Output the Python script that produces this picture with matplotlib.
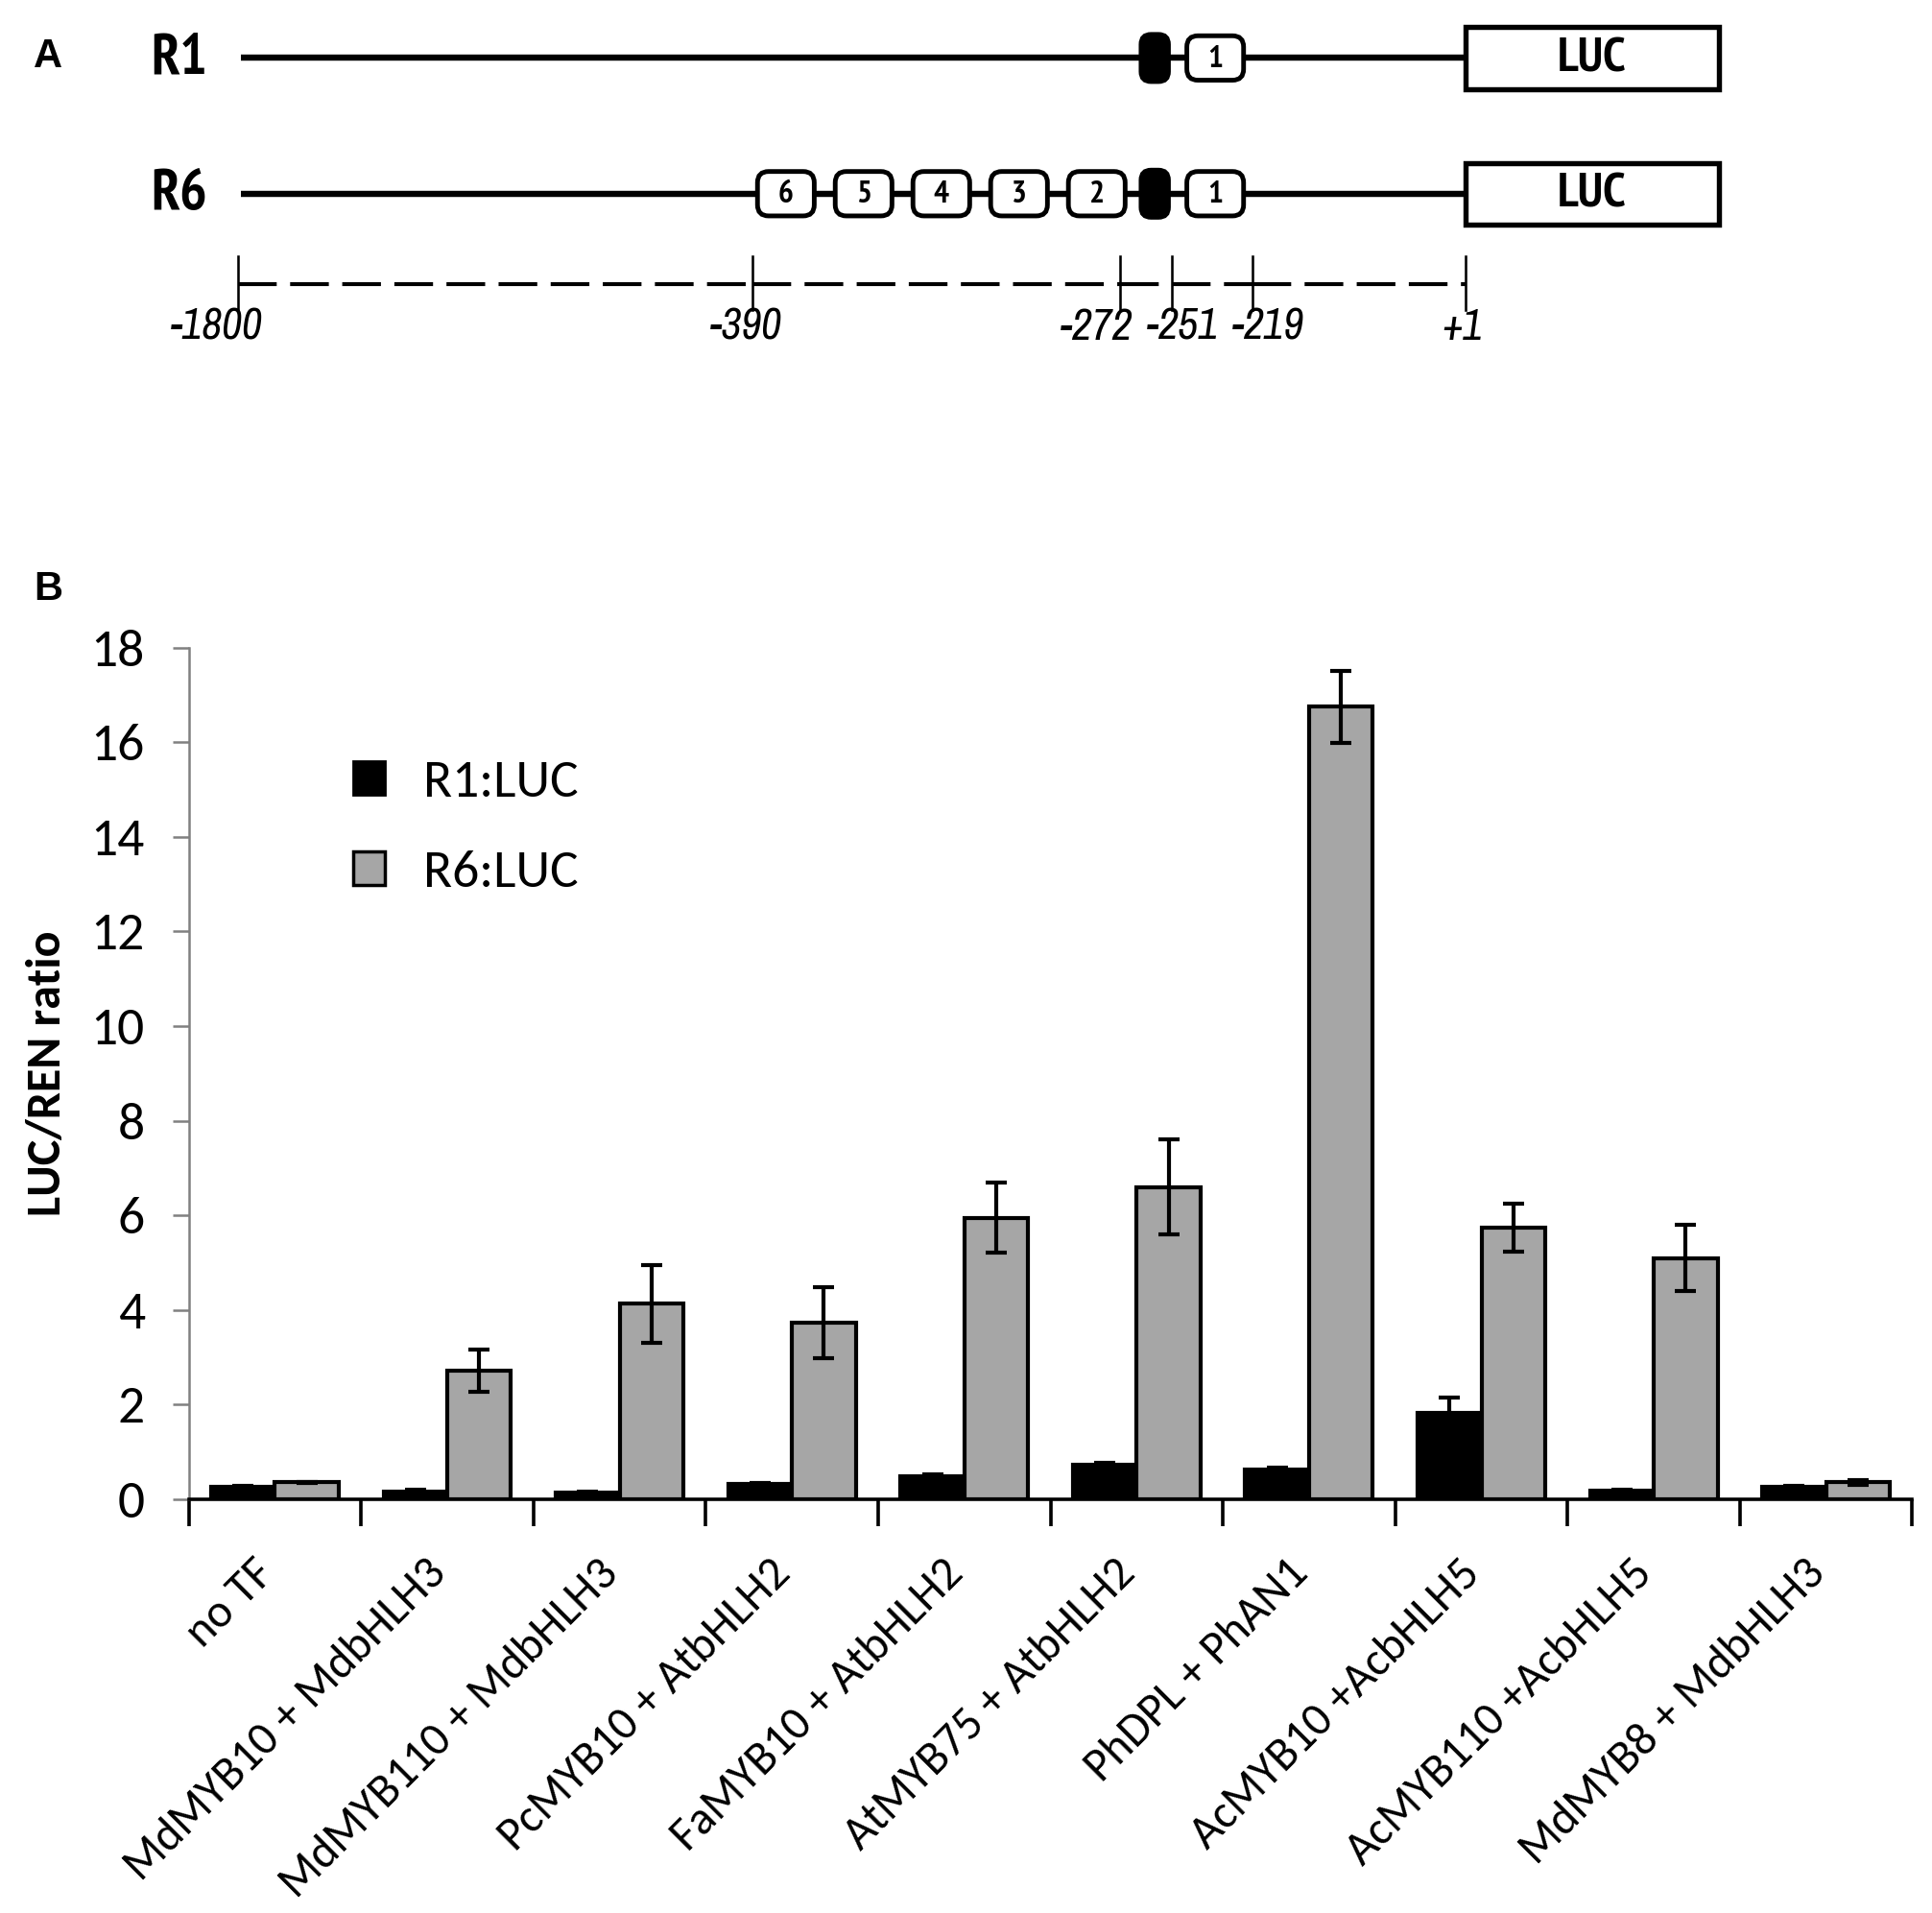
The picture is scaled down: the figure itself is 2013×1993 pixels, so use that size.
import matplotlib
matplotlib.use('Agg')
import matplotlib.pyplot as plt
from matplotlib.patches import FancyBboxPatch, Rectangle, Patch
import numpy as np

# ---------------- data ----------------
categories = ["no TF", "MdMYB10 + MdbHLH3", "MdMYB110 + MdbHLH3", "PcMYB10 + AtbHLH2",
              "FaMYB10 + AtbHLH2", "AtMYB75 + AtbHLH2", "PhDPL + PhAN1",
              "AcMYB10 +AcbHLH5", "AcMYB110 +AcbHLH5", "MdMYB8 + MdbHLH3"]
r1_values = [0.25, 0.15, 0.13, 0.32, 0.48, 0.72, 0.62, 1.83, 0.18, 0.25]
r1_errors = [0.02, 0.04, 0.02, 0.02, 0.05, 0.05, 0.05, 0.32, 0.02, 0.02]
r6_values = [0.35, 2.72, 4.13, 3.73, 5.95, 6.60, 16.75, 5.74, 5.09, 0.35]
r6_errors = [0.01, 0.45, 0.82, 0.75, 0.74, 1.00, 0.76, 0.50, 0.70, 0.06]
series_labels = ["R1:LUC", "R6:LUC"]
y_ticks = [0, 2, 4, 6, 8, 10, 12, 14, 16, 18]

# promoter schematic
scale_labels = ["-1800", "-390", "-272", "-251", "-219", "+1"]
r6_elements = ["6", "5", "4", "3", "2"]

# ---------------- fonts ----------------
NARROW_B = ['PT Sans Narrow', 'Open Sans Condensed', 'DejaVu Sans']
NARROW_I = ['Archivo Narrow', 'Roboto Condensed', 'DejaVu Sans']
CALIBRI = ['Carlito', 'Lato', 'DejaVu Sans']
ARIAL = ['Liberation Sans', 'DejaVu Sans']

# ---------------- figure ----------------
fig = plt.figure(figsize=(20.13, 19.93), dpi=100)
bg = fig.add_axes([0, 0, 1, 1])
W, H = 1566.0, 1550.5
bg.set_xlim(0, W)
bg.set_ylim(H, 0)
bg.axis('off')
PT = 0.9255  # points per schematic unit

# layout of schematic (units)
line_x0, luc_x0, luc_x1 = 195, 1188, 1393
row_y = [47, 157]
elem_x = [637, 700, 763, 826, 889]
black_x = 936
one_x = 985
scale_x = [193, 610, 908, 950, 1015, 1188]
scale_lab_x = [176, 605, 889, 959, 1028, 1185]
scale_y = 230


def rbox(cx, cy, w, h, r, face, lw):
    p = FancyBboxPatch((cx - w / 2, cy - h / 2), w, h,
                       boxstyle=f"round,pad=0,rounding_size={r}",
                       facecolor=face, edgecolor='black', linewidth=lw, zorder=3)
    bg.add_patch(p)


for ri, (y, name) in enumerate(zip(row_y, ["R1", "R6"])):
    bg.plot([line_x0, luc_x0], [y, y], color='black', lw=5 * PT,
            solid_capstyle='butt', zorder=1)
    bg.text(145, y + 1, name, ha='center', va='center', fontsize=43,
            fontweight='bold', family=NARROW_B)
    bg.add_patch(Rectangle((luc_x0, y - 25), luc_x1 - luc_x0, 50, facecolor='white',
                           edgecolor='black', linewidth=4.2 * PT, zorder=3))
    bg.text((luc_x0 + luc_x1) / 2, y + 1, "LUC", ha='center', va='center',
            fontsize=37, fontweight='bold', family=NARROW_B, zorder=4)
    rbox(black_x, y, 24, 40, 9, 'black', 2 * PT)
    rbox(one_x, y, 46, 36, 9, 'white', 3.8 * PT)
    bg.text(one_x, y + 1, "1", ha='center', va='center', fontsize=24,
            fontweight='bold', family=NARROW_B, zorder=4)
    if ri == 1:
        for cx, t in zip(elem_x, r6_elements):
            rbox(cx, y, 46, 36, 9, 'white', 3.8 * PT)
            bg.text(cx, y + 1, t, ha='center', va='center', fontsize=24,
                    fontweight='bold', family=NARROW_B, zorder=4)

# dashed scale line (one dashed run between each pair of ticks)
for xa, xb in zip(scale_x[:-1], scale_x[1:]):
    bg.plot([xa, xb], [scale_y, scale_y], color='black', lw=3.2 * PT,
            dashes=(9.8, 3.4), dash_capstyle='butt', zorder=1)
for sx, lx, lab in zip(scale_x, scale_lab_x, scale_labels):
    bg.plot([sx, sx], [208, 251], color='black', lw=2 * PT, zorder=2)
    bg.text(lx, 265, lab, ha='center', va='center', fontsize=33, style='italic',
            family=NARROW_I)

bg.text(39, 46, "A", ha='center', va='center', fontsize=30, fontweight='bold',
        family=ARIAL)
bg.text(39, 478, "B", ha='center', va='center', fontsize=30, fontweight='bold',
        family=ARIAL)

# ---------------- bar chart ----------------
ax = fig.add_axes([0.0977, 0.2164, 0.8921, 0.4450])
ax.set_facecolor('none')
x = np.arange(len(categories))
bw = 0.37
GRAY = '#A6A6A6'
ax.bar(x - bw / 2, r1_values, bw, color='black', edgecolor='black', linewidth=3,
       label=series_labels[0], zorder=2)
ax.bar(x + bw / 2, r6_values, bw, color=GRAY, edgecolor='black', linewidth=3,
       label=series_labels[1], zorder=2)
ax.errorbar(x - bw / 2, r1_values, yerr=r1_errors, fmt='none', ecolor='black',
            elinewidth=3, capsize=8, capthick=3, zorder=3)
ax.errorbar(x + bw / 2, r6_values, yerr=r6_errors, fmt='none', ecolor='black',
            elinewidth=3, capsize=8, capthick=3, zorder=3)

ax.set_xlim(-0.5, len(categories) - 0.5)
ax.set_ylim(0, 18)
ax.set_yticks(y_ticks)
ax.set_yticklabels([str(v) for v in y_ticks], fontsize=40, family=CALIBRI)
ax.tick_params(axis='y', direction='out', length=12, width=1.8, color='#808080',
               pad=21)

ax.set_xticks(np.arange(-0.5, len(categories)), minor=False)
ax.set_xticklabels([])
ax.tick_params(axis='x', which='major', direction='out', length=20, width=2.6,
               color='black')
ax.set_xticks(x - 0.13, minor=True)
ax.set_xticklabels(categories, minor=True, rotation=45, ha='right', va='top',
                   rotation_mode='anchor', fontsize=35, family=CALIBRI)
ax.tick_params(axis='x', which='minor', length=0, pad=40)

for s in ['top', 'right']:
    ax.spines[s].set_visible(False)
ax.spines['left'].set_color('#808080')
ax.spines['left'].set_linewidth(1.8)
ax.spines['bottom'].set_color('black')
ax.spines['bottom'].set_linewidth(2.6)

ax.set_ylabel("LUC/REN ratio", fontsize=36, fontweight='bold', family=CALIBRI)
ax.yaxis.set_label_coords(-0.070, 0.5)

handles = [Patch(facecolor='black', edgecolor='black', linewidth=2),
           Patch(facecolor=GRAY, edgecolor='black', linewidth=2.5)]
ax.legend(handles, series_labels, loc='upper left', bbox_to_anchor=(0.0954, 0.868),
          frameon=False, handlelength=0.6, handleheight=0.6,
          handletextpad=0.72, labelspacing=0.85, borderpad=0, borderaxespad=0,
          prop={'family': CALIBRI, 'size': 40})

fig.savefig('out.png', dpi=100)
